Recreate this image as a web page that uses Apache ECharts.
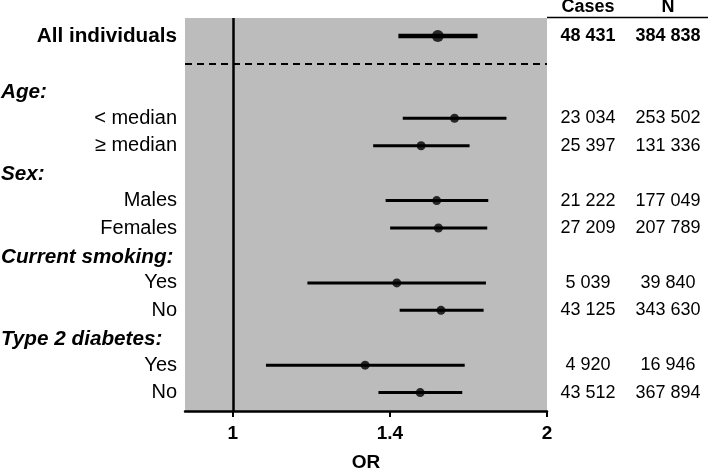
<!DOCTYPE html>
<html>
<head>
<meta charset="utf-8">
<script src="https://cdn.jsdelivr.net/npm/echarts@6/dist/echarts.min.js"></script>
<style>
  html, body { margin: 0; padding: 0; background: #ffffff; }
  #chart { width: 709px; height: 473px; }
</style>
</head>
<body>
<div id="chart"></div>
<script>
// ---- Data ----
// Row slots (0 = top). Headers have no estimate.
const labelTexts = ['All individuals', 'Age:', '< median', '\u2265 median', 'Sex:', 'Males', 'Females',
                    'Current smoking:', 'Yes', 'No', 'Type 2 diabetes:', 'Yes', 'No'];
const labelSlots = [0, 2, 3, 4, 5, 6, 7, 8, 9, 10, 11, 12, 13];
const labelKinds = ['overall', 'header', 'item', 'item', 'header', 'item', 'item',
                    'header', 'item', 'item', 'header', 'item', 'item'];

// Estimates (rows with data)
const estSlots = [0, 3, 4, 6, 7, 9, 10, 12, 13];
const orValues = [1.572, 1.631, 1.515, 1.568, 1.574, 1.436, 1.583, 1.339, 1.512];
const ciLower  = [1.441, 1.455, 1.363, 1.401, 1.415, 1.179, 1.445, 1.076, 1.379];
const ciUpper  = [1.716, 1.829, 1.686, 1.757, 1.753, 1.748, 1.739, 1.668, 1.659];
const casesCol = ['48 431', '23 034', '25 397', '21 222', '27 209', '5 039', '43 125', '4 920', '43 512'];
const nCol     = ['384 838', '253 502', '131 336', '177 049', '207 789', '39 840', '343 630', '16 946', '367 894'];
const colHeaders = ['Cases', 'N'];

// x-axis ticks (log scale, the middle tick is labelled 1.4)
const tickValues = [1, Math.SQRT2, 2];

const refOR = 1;        // null line
const dividerSlot = 1;  // dashed separator

const FONT = '"Liberation Sans", Arial, Helvetica, sans-serif';

const chart = echarts.init(document.getElementById('chart'), null, { renderer: 'canvas' });

const ciData = estSlots.map((s, i) => [ciLower[i], ciUpper[i], s, i === 0 ? 1 : 0]);
const ptData = estSlots.map((s, i) => ({ value: [orValues[i], s], symbolSize: i === 0 ? 12 : 9 }));

const option = {
  animation: false,
  backgroundColor: '#ffffff',
  grid: {
    left: 185, right: 162, top: 18, bottom: 62,
    outerBoundsMode: 'none',
    containLabel: false,
    show: true, backgroundColor: '#bcbcbc', borderWidth: 0
  },
  xAxis: {
    type: 'log',
    logBase: Math.SQRT2,
    min: 0.9, max: 2,
    name: 'OR',
    nameLocation: 'middle',
    nameGap: 42,
    nameTextStyle: { fontFamily: FONT, fontSize: 19, fontWeight: 'bold', color: '#000' },
    axisLine: { show: true, onZero: false, lineStyle: { color: '#000', width: 2.5 } },
    axisTick: { show: true, length: 6, customValues: tickValues, lineStyle: { color: '#000', width: 2 } },
    axisLabel: {
      customValues: tickValues,
      margin: 13,
      fontFamily: FONT, fontSize: 19, fontWeight: 'bold', color: '#000',
      formatter: v => String(Math.round(v * 10) / 10)
    },
    splitLine: { show: false },
    minorTick: { show: false }
  },
  yAxis: {
    type: 'value',
    inverse: true,
    min: -0.656, max: 13.67,
    show: false
  },
  series: [
    {
      type: 'custom',
      name: 'ci',
      data: ciData,
      encode: { x: [0, 1], y: 2 },
      renderItem: function (params, api) {
        const a = api.coord([api.value(0), api.value(2)]);
        const b = api.coord([api.value(1), api.value(2)]);
        const thick = api.value(3) === 1;
        return {
          type: 'line',
          shape: { x1: a[0], y1: a[1], x2: b[0], y2: b[1] },
          style: { stroke: '#000', lineWidth: thick ? 4.5 : 3 }
        };
      },
      z: 3
    },
    {
      type: 'scatter',
      name: 'or',
      data: ptData,
      symbol: 'circle',
      itemStyle: { color: '#000' },
      z: 4,
      markLine: {
        silent: true,
        symbol: 'none',
        label: { show: false },
        data: [
          { xAxis: refOR, lineStyle: { color: '#000', width: 2.5, type: 'solid' } },
          { yAxis: dividerSlot, lineStyle: { color: '#000', width: 2, type: [7, 5] } }
        ]
      }
    }
  ]
};

chart.setOption(option);

// ---- Text columns positioned through the y scale ----
function yPix(slot) { return chart.convertToPixel({ yAxisIndex: 0 }, slot); }

const graphics = [];
labelTexts.forEach((t, i) => {
  const kind = labelKinds[i];
  const y = yPix(labelSlots[i]);
  if (kind === 'header') {
    graphics.push({ type: 'text', x: 1, y: y + 1.5, style: {
      text: t, font: 'italic bold 20.7px ' + FONT, fill: '#000',
      textAlign: 'left', textVerticalAlign: 'middle' } });
  } else {
    graphics.push({ type: 'text', x: 177, y: y, style: {
      text: t, font: (kind === 'overall' ? 'bold 20.7px ' : '20px ') + FONT, fill: '#000',
      textAlign: 'right', textVerticalAlign: 'middle' } });
  }
});

estSlots.forEach((s, i) => {
  const y = yPix(s);
  const w = i === 0 ? 'bold ' : '';
  graphics.push({ type: 'text', x: 588, y: y, style: {
    text: casesCol[i], font: w + '18px ' + FONT, fill: '#000', textAlign: 'center', textVerticalAlign: 'middle' } });
  graphics.push({ type: 'text', x: 668, y: y, style: {
    text: nCol[i], font: w + '18px ' + FONT, fill: '#000', textAlign: 'center', textVerticalAlign: 'middle' } });
});

graphics.push({ type: 'text', x: 588, y: 7, style: {
  text: colHeaders[0], font: 'bold 18px ' + FONT, fill: '#000', textAlign: 'center', textVerticalAlign: 'middle' } });
graphics.push({ type: 'text', x: 668, y: 7, style: {
  text: colHeaders[1], font: 'bold 18px ' + FONT, fill: '#000', textAlign: 'center', textVerticalAlign: 'middle' } });
graphics.push({ type: 'line', shape: { x1: 547, y1: 17.5, x2: 708, y2: 17.5 },
  style: { stroke: '#000', lineWidth: 1.5 } });

chart.setOption({ graphic: graphics });
</script>
</body>
</html>
